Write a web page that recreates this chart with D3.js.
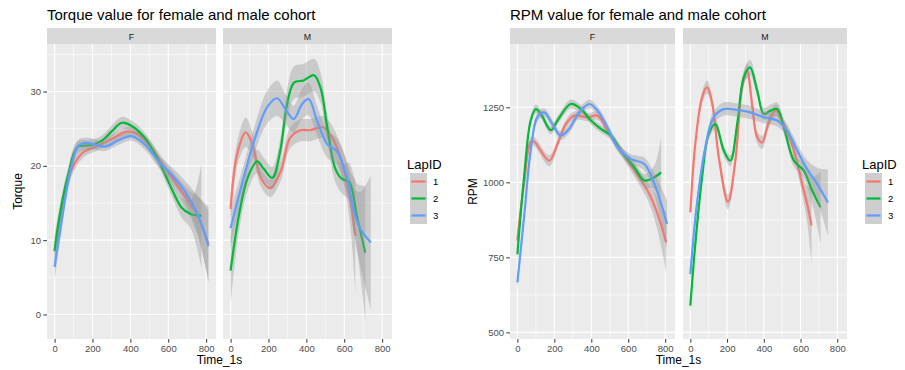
<!DOCTYPE html>
<html>
<head>
<meta charset="utf-8">
<script src="https://cdn.jsdelivr.net/npm/d3@7"></script>
<style>
  body { margin: 0; background: #fff; }
  svg { display: block; }
  text { font-family: "Liberation Sans", Arial, Helvetica, sans-serif; }
</style>
</head>
<body>
<svg id="chart" width="905" height="370"></svg>
<script>
// ---- categories, ticks ----
const lapIds = ["1", "2", "3"];
const facets = ["F", "M"];
const xTicks = [0, 200, 400, 600, 800];
const torqueTicks = [0, 10, 20, 30];
const rpmTicks = [500, 750, 1000, 1250];

// ---- smoothed fits: [Time_1s, fitted value, CI half-width] ----
// Torque, female
const torqueF1 = [[0, 8.5, 1.8], [40, 14.5, 1.2], [90, 19.5, 0.9], [150, 21.8, 0.7], [220, 22.6, 0.6], [300, 23.6, 0.6], [380, 24.6, 0.6], [430, 24.4, 0.6], [500, 22.8, 0.7], [560, 20.6, 0.8], [630, 18.0, 1.0], [700, 15.5, 1.5], [760, 13.0, 2.8], [812, 9.5, 5.0]];
const torqueF2 = [[0, 8.6, 2.0], [35, 14.5, 1.2], [70, 18.6, 1.0], [120, 22.5, 0.8], [190, 22.8, 0.7], [250, 23.4, 0.7], [300, 24.6, 0.8], [355, 25.8, 0.8], [405, 25.4, 0.7], [475, 23.8, 0.7], [545, 20.9, 0.8], [615, 17.1, 1.0], [670, 14.4, 1.3], [720, 13.5, 2.0], [775, 13.3, 7.0]];
const torqueF3 = [[0, 6.4, 1.8], [35, 12.2, 1.2], [80, 18.9, 1.0], [125, 22.7, 0.8], [160, 23.1, 0.7], [210, 22.9, 0.7], [270, 22.6, 0.6], [335, 23.4, 0.6], [405, 24.0, 0.6], [475, 22.9, 0.7], [545, 20.7, 0.8], [615, 18.9, 1.0], [685, 16.7, 1.4], [755, 13.5, 2.5], [812, 9.2, 4.8]];
// Torque, male
const torqueM1 = [[0, 14.2, 2.0], [35, 21.6, 1.6], [80, 24.5, 2.0], [115, 22.9, 1.6], [160, 18.4, 1.2], [210, 17.0, 1.2], [265, 19.3, 1.3], [315, 23.8, 1.4], [370, 24.8, 1.5], [420, 24.8, 1.5], [490, 25.2, 1.5], [545, 23.4, 1.6], [595, 19.8, 2.0], [630, 15.8, 3.5], [658, 10.6, 7.5]];
const torqueM2 = [[0, 5.9, 4.5], [45, 13.5, 2.2], [90, 18.4, 1.8], [140, 20.6, 1.6], [175, 19.6, 1.5], [220, 18.4, 1.5], [262, 22.0, 1.6], [298, 28.3, 2.0], [335, 31.2, 2.2], [385, 31.5, 2.2], [440, 32.2, 2.2], [475, 30.5, 2.0], [510, 25.2, 1.8], [553, 19.6, 1.8], [590, 18.2, 2.0], [625, 17.9, 2.5], [668, 13.1, 4.5], [711, 8.3, 9.0]];
const torqueM3 = [[0, 11.6, 2.5], [55, 17.1, 1.8], [125, 23.4, 1.8], [193, 27.9, 2.2], [246, 29.1, 2.4], [290, 27.6, 2.0], [333, 26.3, 1.8], [377, 28.3, 2.0], [412, 29.0, 2.2], [456, 26.1, 2.0], [510, 22.9, 1.8], [560, 22.0, 1.8], [615, 18.4, 2.2], [650, 14.0, 3.0], [685, 11.5, 5.0], [740, 9.7, 9.0]];
// RPM, female
const rpmF1 = [[0, 806, 25], [36, 994, 18], [80, 1139, 15], [172, 1072, 18], [217, 1128, 15], [262, 1194, 14], [307, 1222, 14], [380, 1217, 13], [434, 1222, 14], [488, 1172, 14], [560, 1106, 15], [633, 1039, 20], [705, 972, 30], [759, 894, 55], [805, 800, 100]];
const rpmF2 = [[0, 760, 30], [36, 1017, 20], [72, 1206, 16], [100, 1244, 15], [127, 1228, 14], [181, 1174, 14], [217, 1206, 14], [289, 1261, 15], [344, 1244, 14], [398, 1206, 13], [452, 1178, 13], [506, 1156, 13], [560, 1106, 15], [633, 1050, 18], [687, 1006, 22], [742, 1017, 40], [778, 1033, 120]];
const rpmF3 = [[0, 667, 25], [36, 883, 20], [72, 1106, 16], [108, 1217, 15], [145, 1233, 14], [190, 1194, 14], [235, 1156, 14], [280, 1178, 14], [335, 1233, 14], [389, 1261, 14], [434, 1239, 14], [488, 1183, 14], [542, 1117, 14], [615, 1078, 16], [687, 1061, 22], [742, 994, 35], [810, 861, 80]];
// RPM, male
const rpmM1 = [[0, 900, 25], [27, 1128, 20], [64, 1283, 20], [91, 1317, 22], [118, 1267, 20], [155, 1083, 20], [205, 935, 25], [245, 1072, 22], [282, 1317, 22], [309, 1372, 25], [336, 1261, 22], [364, 1150, 20], [391, 1133, 22], [427, 1200, 20], [464, 1239, 20], [509, 1194, 20], [564, 1106, 22], [609, 994, 35], [636, 928, 60], [660, 856, 130]];
const rpmM2 = [[0, 589, 30], [27, 794, 25], [64, 1017, 20], [100, 1161, 18], [136, 1194, 18], [182, 1106, 18], [218, 1072, 18], [255, 1194, 18], [291, 1350, 22], [325, 1383, 25], [364, 1306, 22], [400, 1228, 20], [436, 1239, 20], [473, 1244, 22], [509, 1183, 20], [564, 1072, 20], [618, 1039, 25], [664, 972, 45], [709, 917, 120]];
const rpmM3 = [[0, 694, 30], [36, 928, 22], [82, 1117, 20], [127, 1217, 20], [182, 1244, 22], [255, 1241, 22], [327, 1233, 22], [400, 1217, 20], [473, 1206, 20], [527, 1172, 20], [582, 1106, 22], [636, 1044, 30], [691, 994, 55], [749, 933, 110]];

const lapColors = ["#F8766D", "#00BA38", "#619CFF"];
const panelBg = "#EBEBEB";
const stripBg = "#D9D9D9";
const bandFill = "#999999";

const svg = d3.select("#chart");
const PANEL_TOP = 44, PANEL_BOTTOM = 339, STRIP_TOP = 28;
const plainNum = d3.format("d");

function midpoints(ticks) {
  return ticks.slice(0, -1).map((t, i) => (t + ticks[i + 1]) / 2);
}

function drawChart(cfg) {
  const g = svg.append("g");
  const y = d3.scaleLinear().domain(cfg.yDomain).range([PANEL_BOTTOM, PANEL_TOP]);
  const curve = d3.curveCatmullRom.alpha(0.5);

  // title
  g.append("text")
    .attr("x", cfg.panels[0][0]).attr("y", 19.5)
    .attr("font-size", 15).attr("fill", "#000")
    .text(cfg.title);

  cfg.panels.forEach(([x0, x1], i) => {
    const x = d3.scaleLinear().domain(cfg.xDomain).range([x0, x1]);
    const p = g.append("g");
    const clipId = `clip-${cfg.id}-${i}`;
    p.append("clipPath").attr("id", clipId)
      .append("rect").attr("x", x0).attr("y", PANEL_TOP)
      .attr("width", x1 - x0).attr("height", PANEL_BOTTOM - PANEL_TOP);

    p.append("rect")
      .attr("x", x0).attr("y", PANEL_TOP)
      .attr("width", x1 - x0).attr("height", PANEL_BOTTOM - PANEL_TOP)
      .attr("fill", panelBg);

    // grid: minor then major
    const grid = p.append("g").attr("clip-path", `url(#${clipId})`);
    midpoints(cfg.yTicks).concat([cfg.yTicks[cfg.yTicks.length - 1] + (cfg.yTicks[1] - cfg.yTicks[0]) / 2])
      .forEach(v => grid.append("line").attr("x1", x0).attr("x2", x1)
        .attr("y1", y(v)).attr("y2", y(v)).attr("stroke", "#fff").attr("stroke-width", 0.55));
    midpoints(xTicks).forEach(v => grid.append("line").attr("y1", PANEL_TOP).attr("y2", PANEL_BOTTOM)
      .attr("x1", x(v)).attr("x2", x(v)).attr("stroke", "#fff").attr("stroke-width", 0.55));
    cfg.yTicks.forEach(v => grid.append("line").attr("x1", x0).attr("x2", x1)
      .attr("y1", y(v)).attr("y2", y(v)).attr("stroke", "#fff").attr("stroke-width", 1.1));
    xTicks.forEach(v => grid.append("line").attr("y1", PANEL_TOP).attr("y2", PANEL_BOTTOM)
      .attr("x1", x(v)).attr("x2", x(v)).attr("stroke", "#fff").attr("stroke-width", 1.1));

    // strip
    p.append("rect")
      .attr("x", x0).attr("y", STRIP_TOP)
      .attr("width", x1 - x0).attr("height", PANEL_TOP - STRIP_TOP)
      .attr("fill", stripBg);
    p.append("text")
      .attr("x", (x0 + x1) / 2).attr("y", 39.5)
      .attr("text-anchor", "middle").attr("font-size", 8.8).attr("fill", "#1A1A1A")
      .text(facets[i]);

    // smooth fits: ribbon then line, group by group
    const marks = p.append("g").attr("clip-path", `url(#${clipId})`);
    const area = d3.area().curve(curve)
      .x(d => x(d[0])).y0(d => y(d[1] - d[2])).y1(d => y(d[1] + d[2]));
    const line = d3.line().curve(curve).x(d => x(d[0])).y(d => y(d[1]));
    cfg.series[i].forEach((s, k) => {
      marks.append("path").attr("d", area(s))
        .attr("fill", bandFill).attr("fill-opacity", 0.4);
      marks.append("path").attr("d", line(s))
        .attr("fill", "none").attr("stroke", lapColors[k]).attr("stroke-width", 2.2)
        .attr("stroke-linejoin", "round").attr("stroke-linecap", "butt");
    });

    // x axis
    const ax = p.append("g").attr("transform", `translate(0,${PANEL_BOTTOM})`)
      .call(d3.axisBottom(x).tickValues(xTicks).tickFormat(plainNum).tickSize(3.7).tickPadding(2.2));
    ax.select(".domain").remove();
    ax.selectAll(".tick line").attr("stroke", "#333");
    ax.selectAll(".tick text").attr("fill", "#4D4D4D").attr("font-size", 9.5)
      .attr("font-family", null);

    // y axis on first panel only
    if (i === 0) {
      const ay = p.append("g").attr("transform", `translate(${x0},0)`)
        .call(d3.axisLeft(y).tickValues(cfg.yTicks).tickFormat(plainNum).tickSize(3.7).tickPadding(2.2));
      ay.select(".domain").remove();
      ay.selectAll(".tick line").attr("stroke", "#333");
      ay.selectAll(".tick text").attr("fill", "#4D4D4D").attr("font-size", 9.5)
        .attr("font-family", null);
    }
  });

  // axis titles
  const left = cfg.panels[0][0], right = cfg.panels[cfg.panels.length - 1][1];
  g.append("text")
    .attr("x", (left + right) / 2).attr("y", 364)
    .attr("text-anchor", "middle").attr("font-size", 12).attr("fill", "#000")
    .text("Time_1s");
  g.append("text")
    .attr("transform", `translate(${cfg.yTitleX},${(PANEL_TOP + PANEL_BOTTOM) / 2}) rotate(-90)`)
    .attr("text-anchor", "middle").attr("font-size", 12).attr("fill", "#000")
    .text(cfg.yTitle);

  // legend
  const lg = g.append("g");
  lg.append("text")
    .attr("x", cfg.legendX).attr("y", 169)
    .attr("font-size", 13).attr("fill", "#000")
    .text("LapID");
  const keyX = cfg.legendX + 3, keyW = 17, keyTop = 173;
  lapIds.forEach((id, k) => {
    const ky = keyTop + k * keyW;
    lg.append("rect").attr("x", keyX).attr("y", ky).attr("width", keyW).attr("height", keyW)
      .attr("fill", "#F2F2F2");
    lg.append("rect").attr("x", keyX).attr("y", ky).attr("width", keyW).attr("height", keyW)
      .attr("fill", bandFill).attr("fill-opacity", 0.4);
    lg.append("line")
      .attr("x1", keyX + 1.5).attr("x2", keyX + keyW - 1.5)
      .attr("y1", ky + keyW / 2).attr("y2", ky + keyW / 2)
      .attr("stroke", lapColors[k]).attr("stroke-width", 2.2);
    lg.append("text")
      .attr("x", keyX + keyW + 6).attr("y", ky + keyW / 2 + 3.4)
      .attr("font-size", 9.5).attr("fill", "#000")
      .text(id);
  });
}

drawChart({
  id: "torque",
  title: "Torque value for female and male cohort",
  panels: [[47, 216], [223, 392]],
  xDomain: [-40, 852],
  yDomain: [-3.3, 36.4],
  yTicks: torqueTicks,
  yTitle: "Torque",
  yTitleX: 22,
  legendX: 407,
  series: [[torqueF1, torqueF2, torqueF3], [torqueM1, torqueM2, torqueM3]]
});

drawChart({
  id: "rpm",
  title: "RPM value for female and male cohort",
  panels: [[510, 675], [683, 847]],
  xDomain: [-40, 853],
  yDomain: [478, 1461],
  yTicks: rpmTicks,
  yTitle: "RPM",
  yTitleX: 477,
  legendX: 862,
  series: [[rpmF1, rpmF2, rpmF3], [rpmM1, rpmM2, rpmM3]]
});
</script>
</body>
</html>
